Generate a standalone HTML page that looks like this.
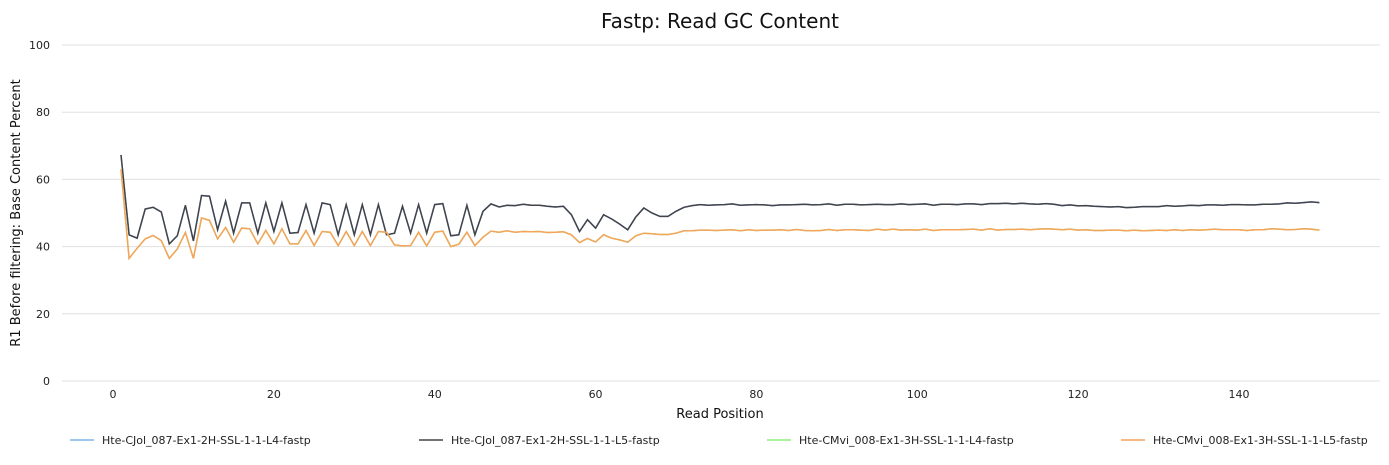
<!DOCTYPE html>
<html><head><meta charset="utf-8"><style>
body{margin:0;background:#fff;font-family:"Liberation Sans","DejaVu Sans",sans-serif}
svg text{font-family:"DejaVu Sans","Liberation Sans",sans-serif}
</style></head><body>
<svg id="chart" width="1389" height="460" xmlns="http://www.w3.org/2000/svg">
<text x="720" y="28" text-anchor="middle" font-size="20" fill="#111">Fastp: Read GC Content</text>
<g id="grid"></g><g id="series"></g>
<text x="720" y="418" text-anchor="middle" font-size="13" fill="#111">Read Position</text>
<text transform="translate(20,213) rotate(-90)" text-anchor="middle" font-size="13" fill="#111">R1 Before filtering: Base Content Percent</text>
<g id="legend"></g>
</svg>
<script>
const seriesNames=["Hte-CJol_087-Ex1-2H-SSL-1-1-L4-fastp","Hte-CJol_087-Ex1-2H-SSL-1-1-L5-fastp","Hte-CMvi_008-Ex1-3H-SSL-1-1-L4-fastp","Hte-CMvi_008-Ex1-3H-SSL-1-1-L5-fastp"];
const seriesColors=["#7cb5ec","#434348","#90ed7d","#f7a35c"];
const xTicks=[0,20,40,60,80,100,120,140];
const yTicks=[0,20,40,60,80,100];
const cjolL5=[67.3,43.5,42.5,51.2,51.7,50.3,40.8,43.2,52.3,41.7,55.2,55,45,53.5,44,53,53,44,53,44.5,53,44,44.2,52.5,44,53,52.5,43.5,52.5,43.5,52.5,43.5,52.5,43.5,44,52,44,52.5,44,52.5,52.8,43.2,43.5,52.3,43.5,50.5,52.7,51.8,52.3,52.2,52.6,52.3,52.3,52,51.8,52,49.5,44.5,48,45.5,49.5,48.2,46.7,45,48.8,51.5,50,49,49,50.5,51.7,52.2,52.5,52.3,52.4,52.5,52.7,52.3,52.4,52.5,52.4,52.2,52.4,52.4,52.5,52.6,52.4,52.5,52.7,52.3,52.6,52.6,52.4,52.5,52.6,52.5,52.5,52.7,52.5,52.6,52.7,52.3,52.6,52.6,52.5,52.7,52.7,52.5,52.8,52.8,52.9,52.7,52.9,52.7,52.6,52.8,52.6,52.2,52.4,52.1,52.2,52,51.9,51.8,51.9,51.6,51.7,51.9,51.9,51.9,52.2,52,52.1,52.3,52.2,52.4,52.4,52.3,52.5,52.5,52.4,52.4,52.6,52.6,52.7,53,52.9,53.1,53.3,53.1];
const cmviL5=[63,36.5,39.5,42.3,43.3,41.8,36.5,39.3,44.2,36.5,48.5,47.8,42.3,45.7,41.3,45.5,45.3,40.8,44.8,40.8,45.3,40.8,40.8,44.8,40.3,44.5,44.3,40.3,44.5,40.3,44.5,40.3,44.5,44.3,40.5,40.2,40.3,44.3,40.2,44.3,44.6,40,40.7,44.3,40.3,42.8,44.6,44.3,44.7,44.3,44.5,44.4,44.5,44.2,44.3,44.4,43.5,41.2,42.4,41.4,43.5,42.5,42,41.3,43.2,44,43.8,43.6,43.6,44,44.7,44.7,44.9,44.9,44.8,44.9,45,44.7,45,44.8,44.9,44.9,45,44.8,45.1,44.8,44.7,44.8,45.1,44.8,45,45,44.9,44.8,45.2,44.9,45.2,44.9,45,44.9,45.2,44.8,45,45,45,45.1,45.2,44.9,45.3,44.9,45.1,45.1,45.2,45,45.2,45.3,45.2,45,45.2,44.9,45,44.8,44.8,44.9,44.9,44.7,44.9,44.7,44.8,44.9,44.8,45,44.8,45,44.9,45,45.2,45,45,45,44.8,45,45,45.3,45.2,45,45.1,45.3,45.2,44.9];
const cjolL4=cjolL5, cmviL4=cmviL5;
const allSeries=[cjolL4,cjolL5,cmviL4,cmviL5];
const X0=62,X1=1380,Y0=381,Y1=45;
const xs=v=>113+v*(1239-113)/140;
const ys=v=>Y0-v*(Y0-Y1)/100;
const NS="http://www.w3.org/2000/svg";
function mk(tag,attrs,parent,text){const e=document.createElementNS(NS,tag);for(const k in attrs)e.setAttribute(k,attrs[k]);if(text!==undefined)e.textContent=text;parent.appendChild(e);return e;}
const grid=document.getElementById('grid');
yTicks.forEach(t=>{
 const l=mk('line',{x1:X0,x2:X1,y1:ys(t),y2:ys(t),stroke:'#e0e0e0','stroke-width':1},grid);
 
 
 const tx=mk('text',{x:50,y:ys(t)+4,'text-anchor':'end','font-size':11,fill:'#222'},grid,String(t));
 
 
});
xTicks.forEach(t=>{
 const tx=mk('text',{x:xs(t),y:398,'text-anchor':'middle','font-size':11,fill:'#222'},grid,String(t));
 
 
});
const sg=document.getElementById('series');
allSeries.forEach((d,i)=>{
 const pts=d.map((v,j)=>xs(j+1).toFixed(1)+','+ys(v).toFixed(1)).join(' ');
 const p=mk('polyline',{points:pts,fill:'none',stroke:seriesColors[i],'stroke-width':1.5},sg);
 
 
});
const lg=document.getElementById('legend');
const lx=[70,419,767,1121];
seriesNames.forEach((n,i)=>{
 const l=mk('line',{x1:lx[i],x2:lx[i]+24,y1:440,y2:440,stroke:seriesColors[i],'stroke-width':1.5},lg);
 
 
 const t=mk('text',{x:lx[i]+32,y:444,'font-size':11,fill:'#222'},lg,n);
 
 
});
</script>
</body></html>
